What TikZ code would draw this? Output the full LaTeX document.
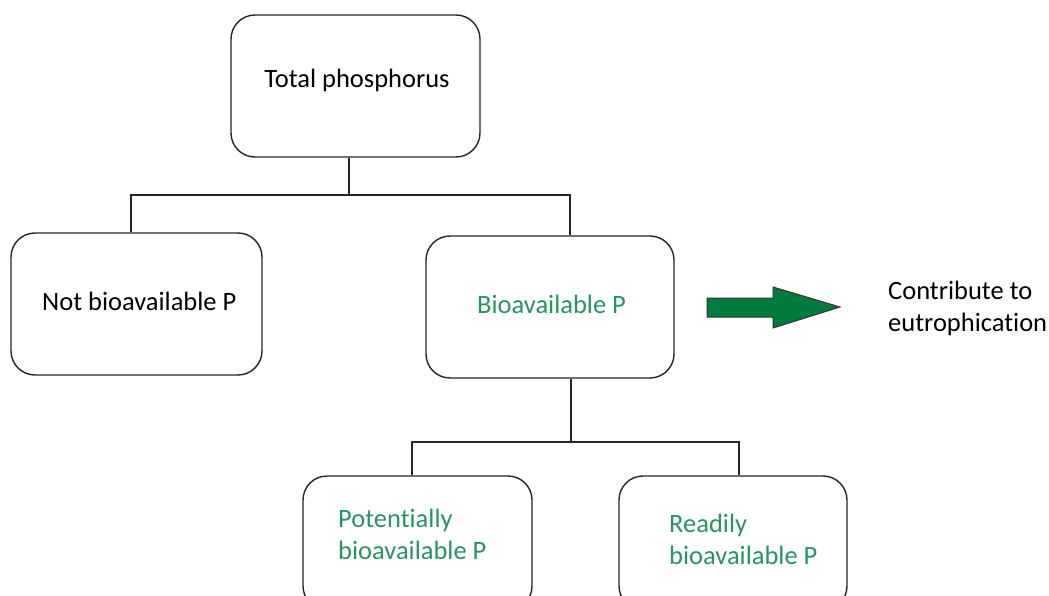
\documentclass[tikz,border=0pt]{standalone}
\usepackage{fontspec}
\setmainfont{Carlito}[Ligatures=NoCommon]
\definecolor{txtgreen}{RGB}{38,150,96}
\definecolor{arrowgreen}{RGB}{0,122,61}
\begin{document}
\begin{tikzpicture}[x=1pt,y=-1pt,
  box/.style={draw=black!85,line width=1.4pt,rounded corners=24pt,inner sep=0pt},
  lbl/.style={inner sep=0pt,font=\fontsize{26.5}{32}\selectfont},
  link/.style={draw=black!85,line width=1.4pt}]
\useasboundingbox (0,0) rectangle (1049,596);
\clip (0,0) rectangle (1049,596);
\fill[white] (0,0) rectangle (1049,596);

% boxes
\node[box,minimum width=249pt,minimum height=142pt] (total) at (355.5,86) {};
\node[box,minimum width=251pt,minimum height=142pt] (notbio) at (136.5,304) {};
\node[box,minimum width=248pt,minimum height=142pt] (bio) at (550,307) {};
\node[box,minimum width=229pt,minimum height=134pt] (pot) at (417.5,543) {};
\node[box,minimum width=228pt,minimum height=134pt] (ready) at (733,543) {};

% texts
\node[lbl] (ttotal) at (357,80) {Total phosphorus};
\node[lbl,anchor=west] (tnotbio) at (42,301) {Not bioavailable P};
\node[lbl,anchor=west,text=txtgreen] (tbio) at (477,304) {Bioavailable P};
\node[lbl,anchor=west,align=left,text=txtgreen] (tpot) at (338,534) {Potentially\\bioavailable P};
\node[lbl,anchor=west,align=left,text=txtgreen] (tready) at (669,539) {Readily\\bioavailable P};
\node[lbl,anchor=west,align=left] (tcontrib) at (888,308) {Contribute to\\eutrophication};

% tree connectors
\coordinate (j1) at (349,195);
\coordinate (j2) at (571,442);
\coordinate (l1) at (131,195);
\coordinate (r1) at (570,195);
\coordinate (l2) at (412,442);
\coordinate (r2) at (739,442);
\draw[link] (total.south -| j1) -- (j1);
\draw[link] (notbio.north -| l1) -- (l1) -- (r1) -- (bio.north -| r1);
\draw[link] (bio.south -| j2) -- (j2);
\draw[link] (pot.north -| l2) -- (l2) -- (r2) -- (ready.north -| r2);

% block arrow
\filldraw[fill=arrowgreen,draw=black!80,line width=1pt,line join=miter]
  (707,298) -- (773,298) -- (773,287) -- (840,307) -- (773,328) -- (773,317) -- (707,317) -- cycle;
\end{tikzpicture}
\end{document}
